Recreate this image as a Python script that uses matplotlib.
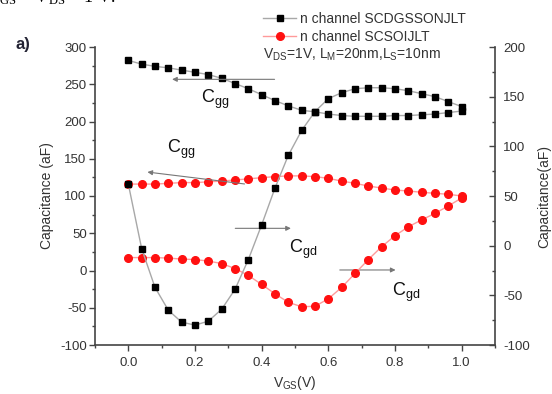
import matplotlib
matplotlib.use('Agg')
from matplotlib import pyplot as plt
from matplotlib.ticker import MultipleLocator, FormatStrFormatter
from matplotlib.lines import Line2D

plt.rcParams['font.family'] = ['Liberation Sans', 'DejaVu Sans']
plt.rcParams['mathtext.fontset'] = 'custom'
plt.rcParams['mathtext.rm'] = 'Liberation Sans'
plt.rcParams['mathtext.default'] = 'regular'
plt.rcParams['axes.unicode_minus'] = False

# gate voltage sweep (V)
vgs = [0.00, 0.04, 0.08, 0.12, 0.16, 0.20, 0.24, 0.28, 0.32, 0.36, 0.40, 0.44, 0.48,
       0.52, 0.56, 0.60, 0.64, 0.68, 0.72, 0.76, 0.80, 0.84, 0.88, 0.92, 0.96, 1.00]

# n channel SCDGSSONJLT
cgg_dg = [282, 277, 274, 272, 269, 266, 263, 258, 251, 244, 236, 228, 221,
          215, 213, 210, 208, 207, 207, 207, 208, 208, 209, 210, 212, 214]      # left axis
cgd_dg = [62, -3, -42, -65, -77, -80, -76, -64, -44, -14, 21, 58, 91,
          116, 135, 148, 154, 158, 159, 159, 158, 156, 153, 150, 145, 140]       # right axis

# n channel SCSOIJLT
cgg_soi = [116, 116, 116, 117, 118, 118, 119, 120, 121.5, 123, 124.6, 126, 127,
           127, 126, 123.7, 120, 117, 113.4, 110.7, 108, 106.7, 105, 103.6, 102.3, 100]  # left axis
cgd_soi = [-12, -12, -12, -12.5, -13.5, -14, -15.5, -18, -23, -30, -39, -48.5, -57,
           -61.5, -61, -53.5, -42, -28, -14, -1, 10, 19, 26, 32.5, 40, 48]       # right axis

series_labels = ['n channel SCDGSSONJLT', 'n channel SCSOIJLT']
txt_col = '#333333'
spine_col = '#444444'

fig = plt.figure(figsize=(5.52, 3.94), dpi=100)
ax = fig.add_axes([95 / 552, 49 / 394, 400 / 552, 298 / 394])
ax2 = ax.twinx()

sq = dict(marker='s', ms=5, mfc='black', mec='black', color='#a8a8a8', lw=1.0)
rd = dict(marker='o', ms=5.5, mfc='#ff1010', mec='#ff1010', color='#ff9a9a', lw=1.0)

ax.plot(vgs, cgg_soi, **rd)
ax.plot(vgs, cgg_dg, **sq)
ax2.plot(vgs, cgd_soi, **rd)
ax2.plot(vgs, cgd_dg, **sq)

ax.set_xlim(-0.1, 1.1)
ax.set_ylim(-100, 300)
ax2.set_ylim(-100, 200)

ax.xaxis.set_major_locator(MultipleLocator(0.2))
ax.xaxis.set_minor_locator(MultipleLocator(0.1))
ax.xaxis.set_major_formatter(FormatStrFormatter('%.1f'))
ax.yaxis.set_major_locator(MultipleLocator(50))
ax.yaxis.set_minor_locator(MultipleLocator(25))
ax2.yaxis.set_major_locator(MultipleLocator(50))
ax2.yaxis.set_minor_locator(MultipleLocator(25))

for a in (ax, ax2):
    a.spines['top'].set_visible(False)
    for s in a.spines.values():
        s.set_color(spine_col)
        s.set_linewidth(1.2)
ax.spines['right'].set_visible(False)
ax2.spines['left'].set_visible(False)
ax2.spines['bottom'].set_visible(False)

ax.tick_params(which='major', direction='out', length=4, width=1, color=spine_col,
               labelsize=9.5, labelcolor=txt_col, pad=2)
ax.tick_params(axis='x', which='major', pad=5)
ax.tick_params(which='minor', direction='out', length=2.5, width=1, color=spine_col)
ax2.tick_params(which='major', direction='in', length=4, width=1, color=spine_col,
                labelsize=9.5, labelcolor=txt_col, pad=6)
ax2.tick_params(which='minor', direction='in', length=2.5, width=1, color=spine_col)

ax.set_xlabel('V$_{GS}$(V)', fontsize=10, color=txt_col, labelpad=3)
ax.set_ylabel('Capacitance (aF)', fontsize=10, color=txt_col, labelpad=4)
ax2.set_ylabel('Capacitance(aF)', fontsize=10, color=txt_col, labelpad=5)

# arrows pointing to the axis each curve belongs to
arr = dict(arrowstyle='-|>', color='#777777', lw=0.8, mutation_scale=7)
ax.annotate('', xy=(0.123, 256.6), xytext=(0.447, 256.6), arrowprops=arr)
ax.annotate('', xy=(0.049, 132.6), xytext=(0.357, 115.7), arrowprops=arr)
ax.annotate('', xy=(0.496, 56.6), xytext=(0.3125, 56.6), arrowprops=arr)
ax.annotate('', xy=(0.81, 0.7), xytext=(0.626, 0.7), arrowprops=arr)

lbl = dict(fontsize=13, color='#111111', ha='center', va='center')
ax.text(0.262, 230, 'C$_{gg}$', **lbl)
ax.text(0.158, 162, 'C$_{gg}$', **lbl)
ax.text(0.525, 28, 'C$_{gd}$', **lbl)
ax.text(0.835, -29, 'C$_{gd}$', **lbl)

handles = [Line2D([], [], **sq), Line2D([], [], **rd)]
fig.legend(handles, series_labels, loc='upper left', bbox_to_anchor=(256 / 552, 1 - 5 / 394),
           frameon=False, fontsize=10, handlelength=2.4, handletextpad=0.3,
           labelspacing=0.3, borderpad=0, labelcolor=txt_col)
fig.text(263 / 552, 1 - 55 / 394, 'V$_{DS}$=1V, L$_{M}$=20nm,L$_{S}$=10nm',
         fontsize=10, color=txt_col, va='center')

fig.text(16 / 552, 1 - 44 / 394, 'a)', fontsize=12, fontweight='bold', color='#222233',
         va='center')
fig.text(-14 / 552, 1 - 2 / 394, 'V$_{GS}$ = V$_{DS}$ = 1 V.', fontsize=13, color='black',
         family='Liberation Serif', va='baseline')

fig.savefig('out.png', dpi=100)
